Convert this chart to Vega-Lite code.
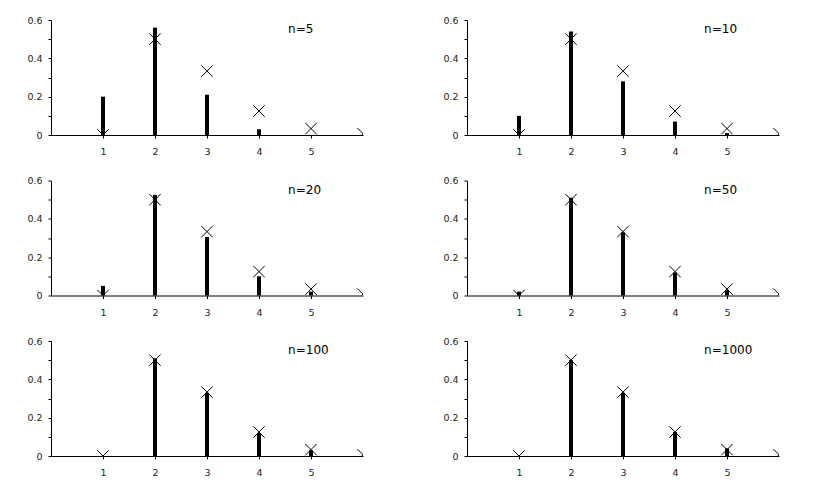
{
  "$schema": "https://vega.github.io/schema/vega-lite/v6.json",
  "background": "white",
  "padding": {"left": 26, "top": 15, "right": 5, "bottom": 5},
  "datasets": {"d": [
    {"n": 5, "label": "n=5", "k": 1, "emp": 0.2, "theo": 0},
    {"n": 5, "label": "n=5", "k": 2, "emp": 0.56, "theo": 0.5},
    {"n": 5, "label": "n=5", "k": 3, "emp": 0.21, "theo": 0.3333},
    {"n": 5, "label": "n=5", "k": 4, "emp": 0.03, "theo": 0.125},
    {"n": 5, "label": "n=5", "k": 5, "emp": 0, "theo": 0.0333},
    {"n": 5, "label": "n=5", "k": 6, "theo": 0.0069},
    {"n": 10, "label": "n=10", "k": 1, "emp": 0.1, "theo": 0},
    {"n": 10, "label": "n=10", "k": 2, "emp": 0.54, "theo": 0.5},
    {"n": 10, "label": "n=10", "k": 3, "emp": 0.28, "theo": 0.3333},
    {"n": 10, "label": "n=10", "k": 4, "emp": 0.07, "theo": 0.125},
    {"n": 10, "label": "n=10", "k": 5, "emp": 0.01, "theo": 0.0333},
    {"n": 10, "label": "n=10", "k": 6, "theo": 0.0069},
    {"n": 20, "label": "n=20", "k": 1, "emp": 0.05, "theo": 0},
    {"n": 20, "label": "n=20", "k": 2, "emp": 0.525, "theo": 0.5},
    {"n": 20, "label": "n=20", "k": 3, "emp": 0.305, "theo": 0.3333},
    {"n": 20, "label": "n=20", "k": 4, "emp": 0.1, "theo": 0.125},
    {"n": 20, "label": "n=20", "k": 5, "emp": 0.02, "theo": 0.0333},
    {"n": 20, "label": "n=20", "k": 6, "theo": 0.0069},
    {"n": 50, "label": "n=50", "k": 1, "emp": 0.02, "theo": 0},
    {"n": 50, "label": "n=50", "k": 2, "emp": 0.51, "theo": 0.5},
    {"n": 50, "label": "n=50", "k": 3, "emp": 0.33, "theo": 0.3333},
    {"n": 50, "label": "n=50", "k": 4, "emp": 0.12, "theo": 0.125},
    {"n": 50, "label": "n=50", "k": 5, "emp": 0.03, "theo": 0.0333},
    {"n": 50, "label": "n=50", "k": 6, "theo": 0.0069},
    {"n": 100, "label": "n=100", "k": 1, "emp": 0, "theo": 0},
    {"n": 100, "label": "n=100", "k": 2, "emp": 0.51, "theo": 0.5},
    {"n": 100, "label": "n=100", "k": 3, "emp": 0.33, "theo": 0.3333},
    {"n": 100, "label": "n=100", "k": 4, "emp": 0.12, "theo": 0.125},
    {"n": 100, "label": "n=100", "k": 5, "emp": 0.03, "theo": 0.0333},
    {"n": 100, "label": "n=100", "k": 6, "theo": 0.0069},
    {"n": 1000, "label": "n=1000", "k": 1, "emp": 0, "theo": 0},
    {"n": 1000, "label": "n=1000", "k": 2, "emp": 0.5, "theo": 0.5},
    {"n": 1000, "label": "n=1000", "k": 3, "emp": 0.33, "theo": 0.3333},
    {"n": 1000, "label": "n=1000", "k": 4, "emp": 0.125, "theo": 0.125},
    {"n": 1000, "label": "n=1000", "k": 5, "emp": 0.04, "theo": 0.0333},
    {"n": 1000, "label": "n=1000", "k": 6, "theo": 0.0069}
  ]},
  "data": {"name": "d"},
  "columns": 2,
  "spacing": {"row": 45.5, "column": 104},
  "bounds": "flush",
  "concat": [
    {"transform": [{"filter": "datum.n == 5"}], "width": 312, "height": 115, "resolve": {"axis": {"y": "independent"}},
     "layer": [
      {"mark": {"type": "bar", "orient": "vertical", "size": 4, "color": "black"},
       "encoding": {
        "x": {"field": "k", "type": "quantitative", "scale": {"domain": [0, 6], "nice": false, "zero": false, "padding": 0}, "axis": {"values": [1, 2, 3, 4, 5], "format": "d", "title": null}},
        "y": {"field": "emp", "type": "quantitative", "scale": {"domain": [0, 0.6], "nice": false, "padding": 0}, "axis": {"values": [0, 0.2, 0.4, 0.6], "format": "~g", "title": null}}}},
      {"mark": {"type": "point", "shape": "M-1,-1L1,1M1,-1L-1,1", "size": 130, "filled": false, "color": "black", "strokeWidth": 1, "opacity": 1, "clip": true},
       "encoding": {
        "x": {"field": "k", "type": "quantitative"},
        "y": {"field": "theo", "type": "quantitative", "axis": {"values": [0.1, 0.3, 0.5], "labels": false, "domain": false, "orient": "left", "title": null}}}},
      {"transform": [{"filter": "datum.k == 1"}],
       "mark": {"type": "text", "align": "left", "baseline": "middle", "fontSize": 12, "font": "DejaVu Sans", "color": "black"},
       "encoding": {"x": {"datum": 4.56}, "y": {"datum": 0.553, "axis": null}, "text": {"field": "label"}}}
     ]},
    {"transform": [{"filter": "datum.n == 10"}], "width": 312, "height": 115, "resolve": {"axis": {"y": "independent"}},
     "layer": [
      {"mark": {"type": "bar", "orient": "vertical", "size": 4, "color": "black"},
       "encoding": {
        "x": {"field": "k", "type": "quantitative", "scale": {"domain": [0, 6], "nice": false, "zero": false, "padding": 0}, "axis": {"values": [1, 2, 3, 4, 5], "format": "d", "title": null}},
        "y": {"field": "emp", "type": "quantitative", "scale": {"domain": [0, 0.6], "nice": false, "padding": 0}, "axis": {"values": [0, 0.2, 0.4, 0.6], "format": "~g", "title": null}}}},
      {"mark": {"type": "point", "shape": "M-1,-1L1,1M1,-1L-1,1", "size": 130, "filled": false, "color": "black", "strokeWidth": 1, "opacity": 1, "clip": true},
       "encoding": {
        "x": {"field": "k", "type": "quantitative"},
        "y": {"field": "theo", "type": "quantitative", "axis": {"values": [0.1, 0.3, 0.5], "labels": false, "domain": false, "orient": "left", "title": null}}}},
      {"transform": [{"filter": "datum.k == 1"}],
       "mark": {"type": "text", "align": "left", "baseline": "middle", "fontSize": 12, "font": "DejaVu Sans", "color": "black"},
       "encoding": {"x": {"datum": 4.56}, "y": {"datum": 0.553, "axis": null}, "text": {"field": "label"}}}
     ]},
    {"transform": [{"filter": "datum.n == 20"}], "width": 312, "height": 115, "resolve": {"axis": {"y": "independent"}},
     "layer": [
      {"mark": {"type": "bar", "orient": "vertical", "size": 4, "color": "black"},
       "encoding": {
        "x": {"field": "k", "type": "quantitative", "scale": {"domain": [0, 6], "nice": false, "zero": false, "padding": 0}, "axis": {"values": [1, 2, 3, 4, 5], "format": "d", "title": null}},
        "y": {"field": "emp", "type": "quantitative", "scale": {"domain": [0, 0.6], "nice": false, "padding": 0}, "axis": {"values": [0, 0.2, 0.4, 0.6], "format": "~g", "title": null}}}},
      {"mark": {"type": "point", "shape": "M-1,-1L1,1M1,-1L-1,1", "size": 130, "filled": false, "color": "black", "strokeWidth": 1, "opacity": 1, "clip": true},
       "encoding": {
        "x": {"field": "k", "type": "quantitative"},
        "y": {"field": "theo", "type": "quantitative", "axis": {"values": [0.1, 0.3, 0.5], "labels": false, "domain": false, "orient": "left", "title": null}}}},
      {"transform": [{"filter": "datum.k == 1"}],
       "mark": {"type": "text", "align": "left", "baseline": "middle", "fontSize": 12, "font": "DejaVu Sans", "color": "black"},
       "encoding": {"x": {"datum": 4.56}, "y": {"datum": 0.553, "axis": null}, "text": {"field": "label"}}}
     ]},
    {"transform": [{"filter": "datum.n == 50"}], "width": 312, "height": 115, "resolve": {"axis": {"y": "independent"}},
     "layer": [
      {"mark": {"type": "bar", "orient": "vertical", "size": 4, "color": "black"},
       "encoding": {
        "x": {"field": "k", "type": "quantitative", "scale": {"domain": [0, 6], "nice": false, "zero": false, "padding": 0}, "axis": {"values": [1, 2, 3, 4, 5], "format": "d", "title": null}},
        "y": {"field": "emp", "type": "quantitative", "scale": {"domain": [0, 0.6], "nice": false, "padding": 0}, "axis": {"values": [0, 0.2, 0.4, 0.6], "format": "~g", "title": null}}}},
      {"mark": {"type": "point", "shape": "M-1,-1L1,1M1,-1L-1,1", "size": 130, "filled": false, "color": "black", "strokeWidth": 1, "opacity": 1, "clip": true},
       "encoding": {
        "x": {"field": "k", "type": "quantitative"},
        "y": {"field": "theo", "type": "quantitative", "axis": {"values": [0.1, 0.3, 0.5], "labels": false, "domain": false, "orient": "left", "title": null}}}},
      {"transform": [{"filter": "datum.k == 1"}],
       "mark": {"type": "text", "align": "left", "baseline": "middle", "fontSize": 12, "font": "DejaVu Sans", "color": "black"},
       "encoding": {"x": {"datum": 4.56}, "y": {"datum": 0.553, "axis": null}, "text": {"field": "label"}}}
     ]},
    {"transform": [{"filter": "datum.n == 100"}], "width": 312, "height": 115, "resolve": {"axis": {"y": "independent"}},
     "layer": [
      {"mark": {"type": "bar", "orient": "vertical", "size": 4, "color": "black"},
       "encoding": {
        "x": {"field": "k", "type": "quantitative", "scale": {"domain": [0, 6], "nice": false, "zero": false, "padding": 0}, "axis": {"values": [1, 2, 3, 4, 5], "format": "d", "title": null}},
        "y": {"field": "emp", "type": "quantitative", "scale": {"domain": [0, 0.6], "nice": false, "padding": 0}, "axis": {"values": [0, 0.2, 0.4, 0.6], "format": "~g", "title": null}}}},
      {"mark": {"type": "point", "shape": "M-1,-1L1,1M1,-1L-1,1", "size": 130, "filled": false, "color": "black", "strokeWidth": 1, "opacity": 1, "clip": true},
       "encoding": {
        "x": {"field": "k", "type": "quantitative"},
        "y": {"field": "theo", "type": "quantitative", "axis": {"values": [0.1, 0.3, 0.5], "labels": false, "domain": false, "orient": "left", "title": null}}}},
      {"transform": [{"filter": "datum.k == 1"}],
       "mark": {"type": "text", "align": "left", "baseline": "middle", "fontSize": 12, "font": "DejaVu Sans", "color": "black"},
       "encoding": {"x": {"datum": 4.56}, "y": {"datum": 0.553, "axis": null}, "text": {"field": "label"}}}
     ]},
    {"transform": [{"filter": "datum.n == 1000"}], "width": 312, "height": 115, "resolve": {"axis": {"y": "independent"}},
     "layer": [
      {"mark": {"type": "bar", "orient": "vertical", "size": 4, "color": "black"},
       "encoding": {
        "x": {"field": "k", "type": "quantitative", "scale": {"domain": [0, 6], "nice": false, "zero": false, "padding": 0}, "axis": {"values": [1, 2, 3, 4, 5], "format": "d", "title": null}},
        "y": {"field": "emp", "type": "quantitative", "scale": {"domain": [0, 0.6], "nice": false, "padding": 0}, "axis": {"values": [0, 0.2, 0.4, 0.6], "format": "~g", "title": null}}}},
      {"mark": {"type": "point", "shape": "M-1,-1L1,1M1,-1L-1,1", "size": 130, "filled": false, "color": "black", "strokeWidth": 1, "opacity": 1, "clip": true},
       "encoding": {
        "x": {"field": "k", "type": "quantitative"},
        "y": {"field": "theo", "type": "quantitative", "axis": {"values": [0.1, 0.3, 0.5], "labels": false, "domain": false, "orient": "left", "title": null}}}},
      {"transform": [{"filter": "datum.k == 1"}],
       "mark": {"type": "text", "align": "left", "baseline": "middle", "fontSize": 12, "font": "DejaVu Sans", "color": "black"},
       "encoding": {"x": {"datum": 4.56}, "y": {"datum": 0.553, "axis": null}, "text": {"field": "label"}}}
     ]}
  ],
  "config": {
    "view": {"stroke": null},
    "axis": {"domainColor": "black", "tickColor": "black", "labelColor": "#222", "labelFont": "DejaVu Sans", "labelFontSize": 9.5, "domainWidth": 1, "tickWidth": 1, "tickSize": 3, "grid": false, "labelOverlap": false, "labelFlush": false},
    "axisX": {"labelPadding": 8.5},
    "axisY": {"labelPadding": 6}
  }
}
